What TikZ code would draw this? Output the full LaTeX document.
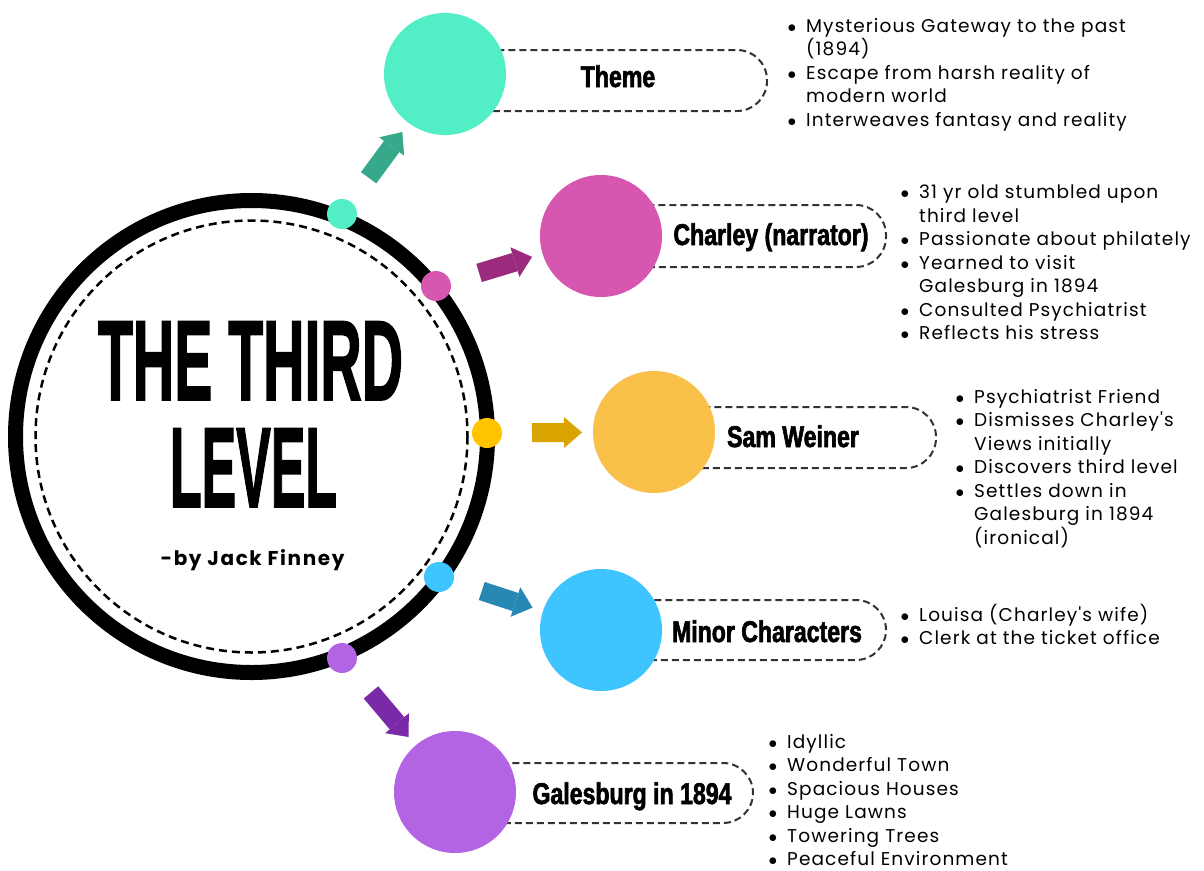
\documentclass[tikz,border=0pt]{standalone}
\usepackage{fontspec}
\setmainfont[LetterSpace=6,Ligatures=TeXOff]{Poppins}
\newfontfamily\authorfont[LetterSpace=8]{Poppins}
\newfontfamily\labelfont[FakeStretch=0.77,FakeBold=2]{Liberation Sans}
\newfontfamily\bigfont[FakeBold=1.8]{Liberation Sans}
\usetikzlibrary{arrows.meta}

\definecolor{themeC}{HTML}{52EFC6}
\definecolor{themeA}{HTML}{35A98A}
\definecolor{charC}{HTML}{D656B0}
\definecolor{charA}{HTML}{9B2B7C}
\definecolor{samC}{HTML}{F9C04A}
\definecolor{samDot}{HTML}{FFC300}
\definecolor{samA}{HTML}{D9A400}
\definecolor{minC}{HTML}{3EC4FF}
\definecolor{minA}{HTML}{2788B4}
\definecolor{galC}{HTML}{B264E3}
\definecolor{galA}{HTML}{7A2AA9}

% bullet list helpers
\newcommand\bul{\makebox[18.5pt][l]{$\bullet$}}
\newcommand\cont{\hspace*{18.5pt}}

\tikzset{
  ring/.style={line width=15pt, draw=black},
  innerdash/.style={line width=2.5pt, draw=black, dash pattern=on 8pt off 5pt},
  bigdisc/.style={circle, minimum size=122pt, inner sep=0pt, fill=#1},
  ringdot/.style={circle, minimum size=30pt, inner sep=0pt, fill=#1},
  capsule/.style={draw=black!80, line width=2pt, dash pattern=on 7pt off 4pt, rounded corners=30pt},
  labeltext/.style={font=\labelfont\bfseries\fontsize{30}{30}\selectfont, inner sep=0pt, anchor=base},
  notes/.style={font=\fontsize{18.5}{23.5}\selectfont, align=left, anchor=north west, inner sep=0pt},
  flow/.style={line width=19pt, draw=#1,
    -{Triangle[width=31pt,length=18pt,line width=0pt]},
    shorten <=45pt, shorten >=72pt},
}

\begin{document}
\begin{tikzpicture}[x=1pt,y=-1pt]
\useasboundingbox[fill=white] (0,0) rectangle (1204,870);

% dashed capsules behind the topic discs
\draw[capsule] (445,50) rectangle (767,111);
\draw[capsule] (601,205) rectangle (886,267);
\draw[capsule] (654,407) rectangle (936,468);
\draw[capsule] (601,600) rectangle (886,660);
\draw[capsule] (455,763) rectangle (753,823);

% topic discs
\node[bigdisc=themeC] (themeDisc) at (445,74) {};
\node[bigdisc=charC]  (charDisc)  at (601,236) {};
\node[bigdisc=samC]   (samDisc)   at (654,432) {};
\node[bigdisc=minC]   (minDisc)   at (601,630) {};
\node[bigdisc=galC]   (galDisc)   at (455,792) {};

% topic labels
\node[labeltext] (themeLbl) at (618,87)  {Theme};
\node[labeltext] (charLbl)  at (771,245) {Charley (narrator)};
\node[labeltext] (samLbl)   at (793,447) {Sam Weiner};
\node[labeltext] (minLbl)   at (767,642) {Minor Characters};
\node[labeltext] (galLbl)   at (632,804) {Galesburg in 1894};

% central badge
\draw[ring] (251.5,436.5) circle (236);
\draw[innerdash] (251.5,436.5) circle (216);
\node[inner sep=0pt, anchor=south] (title1) at (250.5,400)
  {\resizebox{305pt}{78pt}{\bigfont\bfseries THE THIRD}};
\node[inner sep=0pt, anchor=south] (title2) at (253.5,507)
  {\resizebox{167pt}{78pt}{\bigfont\bfseries LEVEL}};
\node[inner sep=0pt, anchor=base, font=\authorfont\bfseries\fontsize{20}{20}\selectfont] (author) at (252.5,565)
  {-by Jack Finney};

% dots on the ring
\node[ringdot=themeC] (themeDot) at (342,214) {};
\node[ringdot=charC]  (charDot)  at (436,286) {};
\node[ringdot=samDot] (samDot)   at (487,433) {};
\node[ringdot=minC]   (minDot)   at (439,577) {};
\node[ringdot=galC]   (galDot)   at (342,658) {};

% block arrows from the ring to each topic
\draw[flow=themeA] (themeDot.center) -- (themeDisc.center);
\draw[flow=charA]  (charDot.center)  -- (charDisc.center);
\draw[flow=samA]   (samDot.center)   -- (samDisc.center);
\draw[flow=minA]   (minDot.center)   -- (minDisc.center);
\draw[flow=galA]   (galDot.center)   -- (galDisc.center);

% notes
\node[notes] (themeNotes) at (787.5,18) {%
  \bul Mysterious Gateway to the past\\
  \cont(1894)\\
  \bul Escape from harsh reality of\\
  \cont modern world\\
  \bul Interweaves fantasy and reality};
\node[notes] (charNotes) at (900.5,185) {%
  \bul 31 yr old stumbled upon\\
  \cont third level\\
  \bul Passionate about philately\\
  \bul Yearned to visit\\
  \cont Galesburg in 1894\\
  \bul Consulted Psychiatrist\\
  \bul Reflects his stress};
\node[notes] (samNotes) at (955.5,389) {%
  \bul Psychiatrist Friend\\
  \bul Dismisses Charley's\\
  \cont Views initially\\
  \bul Discovers third level\\
  \bul Settles down in\\
  \cont Galesburg in 1894\\
  \cont(ironical)};
\node[notes] (minNotes) at (900.5,604) {%
  \bul Louisa (Charley's wife)\\
  \bul Clerk at the ticket office};
\node[notes] (galNotes) at (768.5,734) {%
  \bul Idyllic\\
  \bul Wonderful Town\\
  \bul Spacious Houses\\
  \bul Huge Lawns\\
  \bul Towering Trees\\
  \bul Peaceful Environment};
\end{tikzpicture}
\end{document}
